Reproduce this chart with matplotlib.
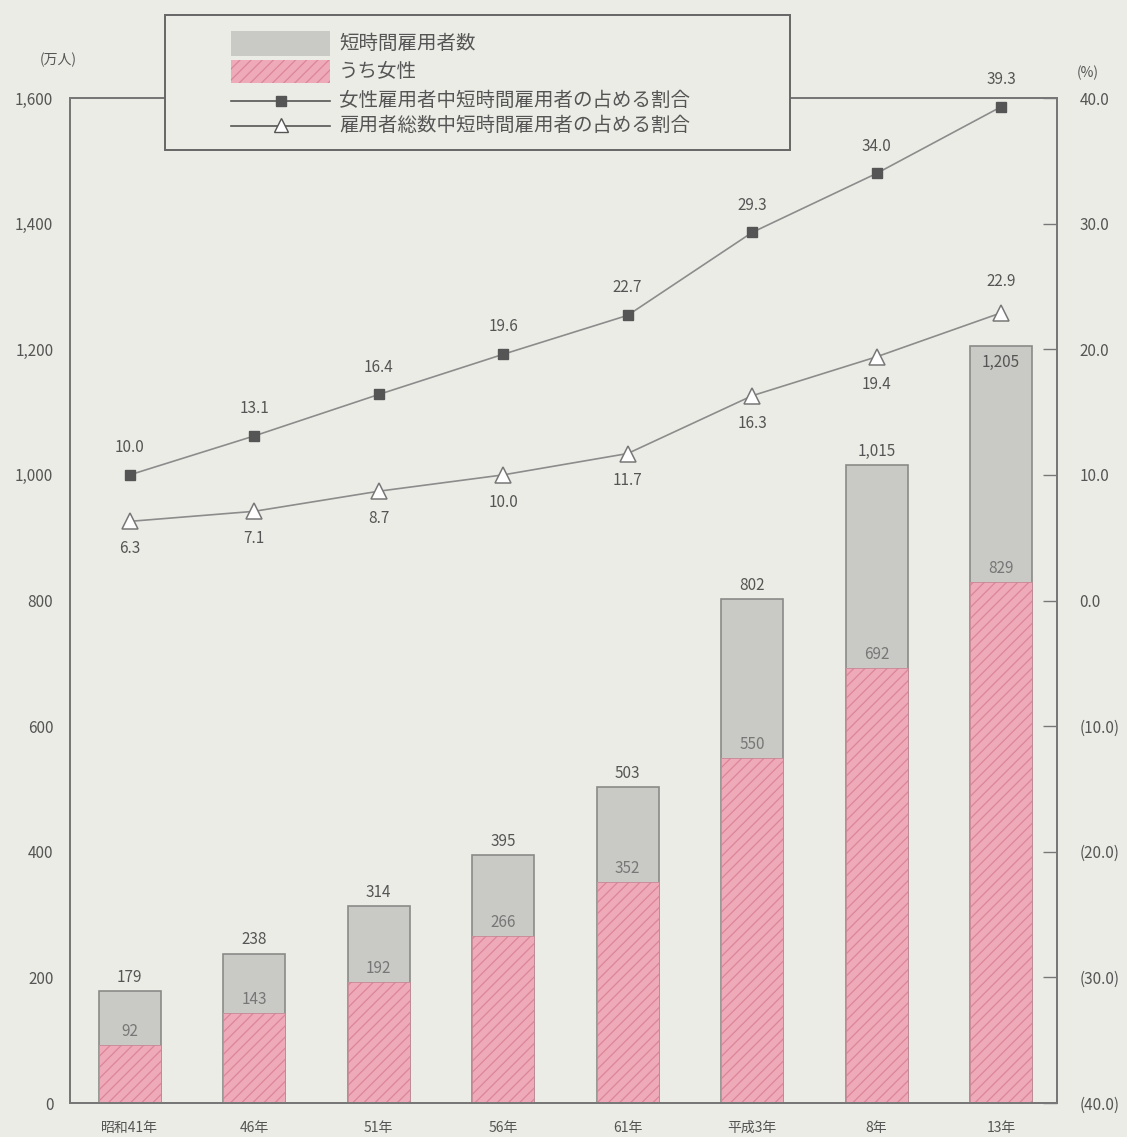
import matplotlib.pyplot as plt
from matplotlib.patches import Rectangle
from matplotlib.lines import Line2D

plt.rcParams['font.family'] = ['Noto Sans CJK JP', 'DejaVu Sans']
plt.rcParams['hatch.linewidth'] = 0.9

# --- data ---
years = ["昭和41年", "46年", "51年", "56年", "61年", "平成3年", "8年", "13年"]
total_workers = [179, 238, 314, 395, 503, 802, 1015, 1205]
female_workers = [92, 143, 192, 266, 352, 550, 692, 829]
female_share = [10.0, 13.1, 16.4, 19.6, 22.7, 29.3, 34.0, 39.3]
total_share = [6.3, 7.1, 8.7, 10.0, 11.7, 16.3, 19.4, 22.9]
legend_labels = ["短時間雇用者数", "うち女性",
                 "女性雇用者中短時間雇用者の占める割合",
                 "雇用者総数中短時間雇用者の占める割合"]

bg = "#ecece7"
txt = "#555555"
gray_fill = "#c9c9c5"
gray_edge = "#8a8a88"
pink = "#eeaab8"
pink_hatch = "#dc8599"
line_col = "#8c8c8c"

fig = plt.figure(figsize=(11.27, 11.37), dpi=100, facecolor=bg)
ax = fig.add_axes([0.0621, 0.0299, 0.8759, 0.8839], facecolor=bg)
ax2 = ax.twinx()

x = list(range(len(years)))
w = 0.5

# bars: grey total, pink hatched female part on top of it
ax.bar(x, total_workers, width=w, color=gray_fill, edgecolor=gray_edge, linewidth=1.2, zorder=2)
ax.bar(x, female_workers, width=w, color=pink, edgecolor="none", zorder=3)
ax.bar(x, female_workers, width=w, color="none", edgecolor=pink_hatch, hatch="///", linewidth=0, zorder=4)
ax.bar(x, female_workers, width=w, color="none", edgecolor="#c48a96", linewidth=0.6, zorder=5)

for i, (t, f) in enumerate(zip(total_workers, female_workers)):
    lab = f"{t:,}"
    if t > 1100:
        ax.text(i, t - 12, lab, ha="center", va="top", fontsize=11, color=txt, zorder=6)
    else:
        ax.text(i, t + 8, lab, ha="center", va="bottom", fontsize=11, color=txt, zorder=6)
    ax.text(i, f + 8, f"{f}", ha="center", va="bottom", fontsize=11, color="#777777", zorder=6)

ax.set_xlim(-0.48, 7.45)
ax.set_ylim(0, 1600)
ax.set_yticks(range(0, 1601, 200))
ax.set_yticklabels([f"{v:,}" for v in range(0, 1601, 200)], fontsize=11, color=txt)
ax.set_xticks(x)
ax.set_xticklabels(years, fontsize=10, color=txt)
ax.tick_params(axis="y", length=0, pad=12)
ax.tick_params(axis="x", length=0, pad=13)

# ratio lines on the right axis
ax2.plot(x, female_share, color=line_col, lw=1.2, marker="s", markersize=7,
         markerfacecolor="#555555", markeredgecolor="#555555", zorder=5)
ax2.plot(x, total_share, color=line_col, lw=1.2, marker="^", markersize=12,
         markerfacecolor="white", markeredgecolor="#777777", markeredgewidth=1.1, zorder=5)
for i, v in enumerate(female_share):
    ax2.text(i, v + 1.5, f"{v:.1f}", ha="center", va="bottom", fontsize=11, color=txt)
for i, v in enumerate(total_share):
    if i == len(total_share) - 1:
        ax2.text(i, v + 1.8, f"{v:.1f}", ha="center", va="bottom", fontsize=11, color=txt)
    else:
        ax2.text(i, v - 1.5, f"{v:.1f}", ha="center", va="top", fontsize=11, color=txt)

ax2.set_ylim(-40, 40)
rt = list(range(-40, 41, 10))
ax2.set_yticks(rt)
ax2.set_yticklabels([f"({abs(v):.1f})" if v < 0 else f"{v:.1f}" for v in rt], fontsize=11, color=txt)
ax2.tick_params(axis="y", direction="in", length=10, width=1, color="#777777", pad=16)

for a in (ax, ax2):
    for s in a.spines.values():
        s.set_color("#777777")
        s.set_linewidth(1.4)
ax.set_zorder(1)
ax2.set_zorder(2)
ax2.patch.set_visible(False)

fig.text(0.035, 0.947, "(万人)", fontsize=10, color=txt, ha="left", va="center")
fig.text(0.965, 0.936, "(%)", fontsize=10, color=txt, ha="center", va="center")

# legend box drawn by hand
fig.patches.append(Rectangle((0.1464, 0.868), 0.555, 0.119, transform=fig.transFigure,
                             facecolor=bg, edgecolor="#666666", linewidth=1.4, zorder=10))
fig.patches.append(Rectangle((0.205, 0.951), 0.088, 0.022, transform=fig.transFigure,
                             facecolor=gray_fill, edgecolor="none", zorder=11))
fig.patches.append(Rectangle((0.205, 0.927), 0.088, 0.020, transform=fig.transFigure,
                             facecolor=pink, edgecolor="none", zorder=11))
fig.patches.append(Rectangle((0.205, 0.927), 0.088, 0.020, transform=fig.transFigure,
                             facecolor="none", edgecolor=pink_hatch, hatch="///", linewidth=0, zorder=12))
fig.lines.append(Line2D([0.205, 0.293], [0.911, 0.911], transform=fig.transFigure, color="#555555",
                        lw=1.2, zorder=11))
fig.lines.append(Line2D([0.249], [0.911], transform=fig.transFigure, marker="s", markersize=7,
                        color="#555555", zorder=12))
fig.lines.append(Line2D([0.205, 0.293], [0.889, 0.889], transform=fig.transFigure, color="#555555",
                        lw=1.2, zorder=11))
fig.lines.append(Line2D([0.249], [0.890], transform=fig.transFigure, marker="^", markersize=10,
                        markerfacecolor="white", markeredgecolor="#555555", zorder=12))
for ypos, lab in zip([0.962, 0.937, 0.912, 0.890], legend_labels):
    fig.text(0.301, ypos, lab, fontsize=14, color=txt, ha="left", va="center", zorder=13)

fig.savefig("out.png", dpi=100, facecolor=bg)
